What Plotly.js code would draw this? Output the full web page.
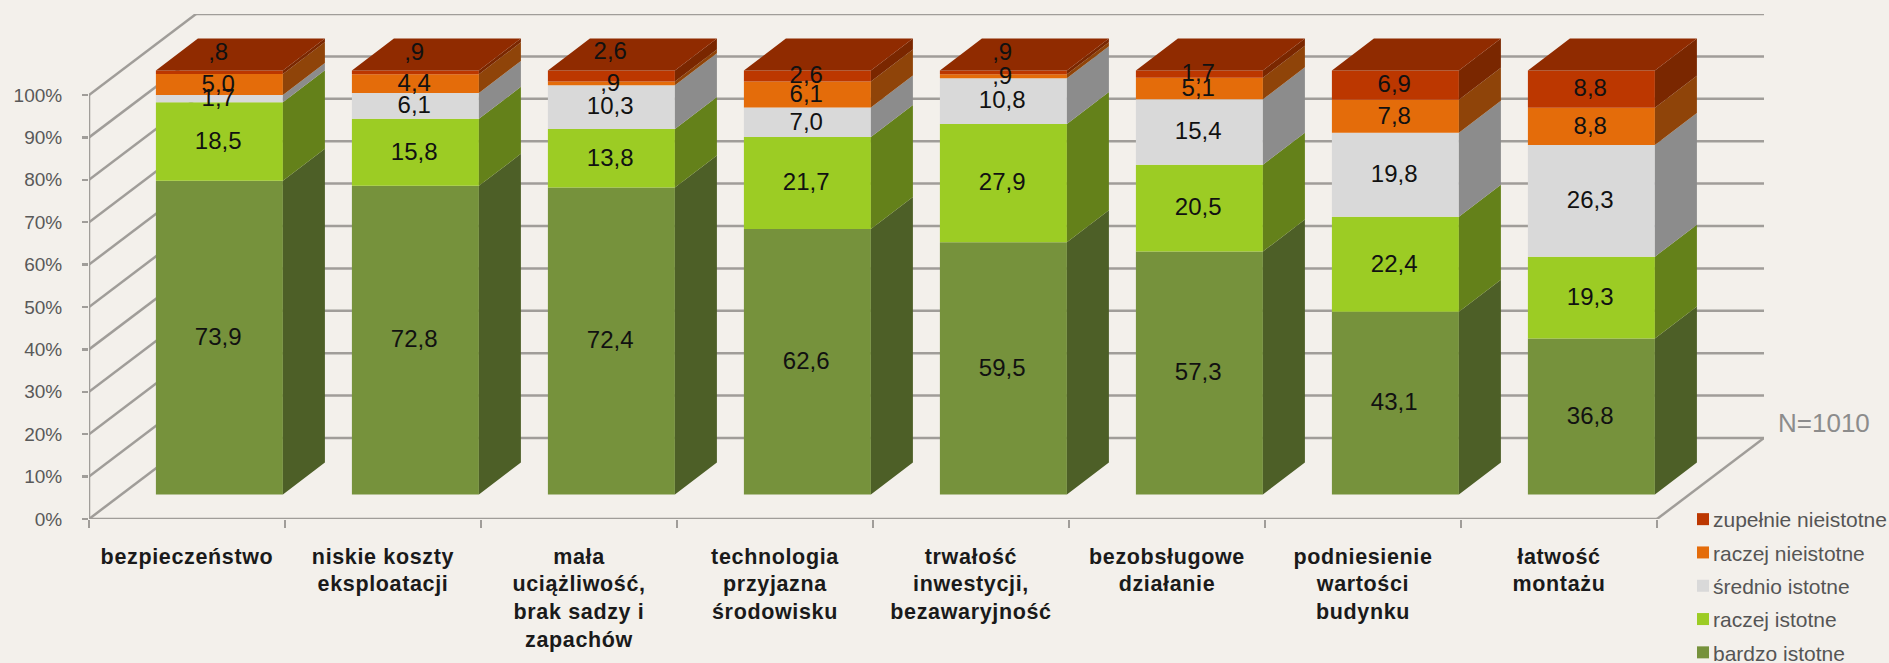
<!DOCTYPE html>
<html><head><meta charset="utf-8">
<script src="https://cdn.plot.ly/plotly-3.0.1.min.js"></script>
<style>html,body{margin:0;padding:0;background:#f3f0eb;overflow:hidden}#c{width:1889px;height:663px}
.xtick text{letter-spacing:.65px}
.legendsymbols{transform:translateX(10px)}</style>
</head><body><div id="c"></div>
<script>
const categories = ["bezpieczeństwo","niskie koszty<br>eksploatacji","mała<br>uciążliwość,<br>brak sadzy i<br>zapachów","technologia<br>przyjazna<br>środowisku","trwałość<br>inwestycji,<br>bezawaryjność","bezobsługowe<br>działanie","podniesienie<br>wartości<br>budynku","łatwość<br>montażu"];
const bardzoIstotne = [73.9,72.8,72.4,62.6,59.5,57.3,43.1,36.8];
const raczejIstotne = [18.5,15.8,13.8,21.7,27.9,20.5,22.4,19.3];
const srednioIstotne = [1.7,6.1,10.3,7.0,10.8,15.4,19.8,26.3];
const raczejNieistotne = [5.0,4.4,0.9,6.1,0.9,5.1,7.8,8.8];
const zupelnieNieistotne = [0.8,0.9,2.6,2.6,0.9,1.7,6.9,8.8];
const yTicks = [0,10,20,30,40,50,60,70,80,90,100];
const labelLift = [4.7,4.7,5.7,0,4.7,0.1,0,0];

const names = ["bardzo istotne","raczej istotne","średnio istotne","raczej nieistotne","zupełnie nieistotne"];
const seriesValues = [bardzoIstotne,raczejIstotne,srednioIstotne,raczejNieistotne,zupelnieNieistotne];
const frontColors = ["#76923c","#9ccc24","#d9d9d9","#e46c0a","#bc3700"];
const sideColors = ["#4d5f27","#64811a","#8c8c8c","#8f4409","#7a2700"];
const topColor = "#902b00";
const gridColor = "#a09d99";

// oblique projection, in axis units (196 px per category, 4.24 px per percent)
const wallDX = 107/196, wallDY = 81/4.24;
const barShiftX = 32.4/196, barShiftY = 24.5/4.24;
const barW = 127/196, sideDX = 42/196, sideDY = 32/4.24;
const labelDrop = 0.3;
const n = categories.length;
const xRange = [0, n + wallDX], yRange = [0, 100 + wallDY];

const totals = categories.map((_, i) => seriesValues.reduce((s, a) => s + a[i], 0));
const cum = categories.map(() => 0);
const traces = [], sideTraces = [], labelTraces = [];
const centers = categories.map((_, i) => i + 0.5 + barShiftX);

seriesValues.forEach((vals, k) => {
  const base = [], h = [];
  vals.forEach((v, i) => {
    const hv = v / totals[i] * 100;
    base.push(cum[i] + barShiftY); h.push(hv); cum[i] += hv;
  });
  traces.push({type:"bar", name:names[k], legendgroup:names[k], legendrank:5-k, x:centers, y:h, base:base, width:barW,
    marker:{color:frontColors[k], line:{width:0}}, hoverinfo:"name+y"});
  const sx = [], sy = [];
  centers.forEach((c, i) => {
    const r = c + barW/2;
    sx.push(r, r+sideDX, r+sideDX, r, r, null);
    sy.push(base[i], base[i]+sideDY, base[i]+h[i]+sideDY, base[i]+h[i], base[i], null);
  });
  sideTraces.push({type:"scatter", mode:"lines", x:sx, y:sy, fill:"toself", fillcolor:sideColors[k],
    line:{width:0, color:sideColors[k]}, showlegend:false, hoverinfo:"skip", cliponaxis:false});
  labelTraces.push({type:"scatter", mode:"text", x:centers.map(c => c - 0.006),
    y:base.map((b, i) => b + h[i]/2 - labelDrop + (k === 4 ? labelLift[i] : 0)),
    text:vals.map(v => (v < 1 ? "," + Math.round(v*10) : v.toFixed(1).replace(".", ","))),
    textposition:"middle center", textfont:{family:"Liberation Sans", size:24, color:"#111"},
    showlegend:false, hoverinfo:"skip", cliponaxis:false});
});
const tx = [], ty = [];
centers.forEach((c) => {
  const l = c - barW/2, r = c + barW/2, t = 100 + barShiftY;
  tx.push(l, r, r+sideDX, l+sideDX, l, null);
  ty.push(t, t, t+sideDY, t+sideDY, t, null);
});
const topTrace = {type:"scatter", mode:"lines", x:tx, y:ty, fill:"toself", fillcolor:topColor,
  line:{width:0, color:topColor}, showlegend:false, hoverinfo:"skip", cliponaxis:false};

const ln = (x0,y0,x1,y1) => ({type:"line", xref:"x", yref:"y", x0, y0, x1, y1, layer:"below",
  line:{color:gridColor, width:2.5}});
const shapes = [];
yTicks.forEach(v => {
  shapes.push(ln(0, v, wallDX, v + wallDY));
  shapes.push(ln(wallDX, v + wallDY, n + wallDX, v + wallDY));
});
shapes.push(ln(0, 0, 0, 100));
shapes.push(ln(0, 0, n, 0));
shapes.push(ln(n, 0, n + wallDX, wallDY));

const layout = {
  width:1889, height:663, paper_bgcolor:"#f3f0eb", plot_bgcolor:"rgba(0,0,0,0)",
  margin:{l:89, r:125, t:14, b:144, pad:0, autoexpand:false},
  barmode:"overlay", showlegend:true, shapes,
  xaxis:{type:"linear", range:xRange, showgrid:false, zeroline:false, showline:false,
    tickmode:"array", tickvals:categories.map((_, i) => i + 0.5), ticktext:categories, ticks:"",
    ticklabelstandoff:22, tickangle:0,
    tickfont:{family:"Liberation Sans", size:21.5, color:"#1a1a1a", weight:"bold"},
    minor:{tickmode:"array", tickvals:Array.from({length:n+1}, (_, i) => i), ticks:"outside", ticklen:8, tickwidth:2.5, tickcolor:gridColor, showgrid:false}},
  yaxis:{range:yRange, showgrid:false, zeroline:false, showline:false,
    tickmode:"array", tickvals:yTicks, ticktext:yTicks.map(v => v + "%"), ticks:"outside", ticklen:6, tickwidth:2.5, tickcolor:gridColor,
    ticklabelstandoff:16, tickfont:{family:"Liberation Sans", size:19, color:"#595959"}},
  legend:{x:(1673-89)/1675, xanchor:"left", y:1-(499-14)/505, yanchor:"top", traceorder:"grouped",
    tracegroupgap:3, bgcolor:"rgba(0,0,0,0)", font:{family:"Liberation Sans", size:21, color:"#555"}},
  annotations:[{xref:"paper", yref:"paper", x:(1824-89)/1675, y:1-(423-14)/505, xanchor:"center", yanchor:"middle", showarrow:false,
    text:"N=1010", font:{family:"Liberation Sans", size:26, color:"#8c8c8c"}}]
};
Plotly.newPlot("c", traces.concat(sideTraces, [topTrace], labelTraces), layout, {displayModeBar:false, staticPlot:true});
</script></body></html>
